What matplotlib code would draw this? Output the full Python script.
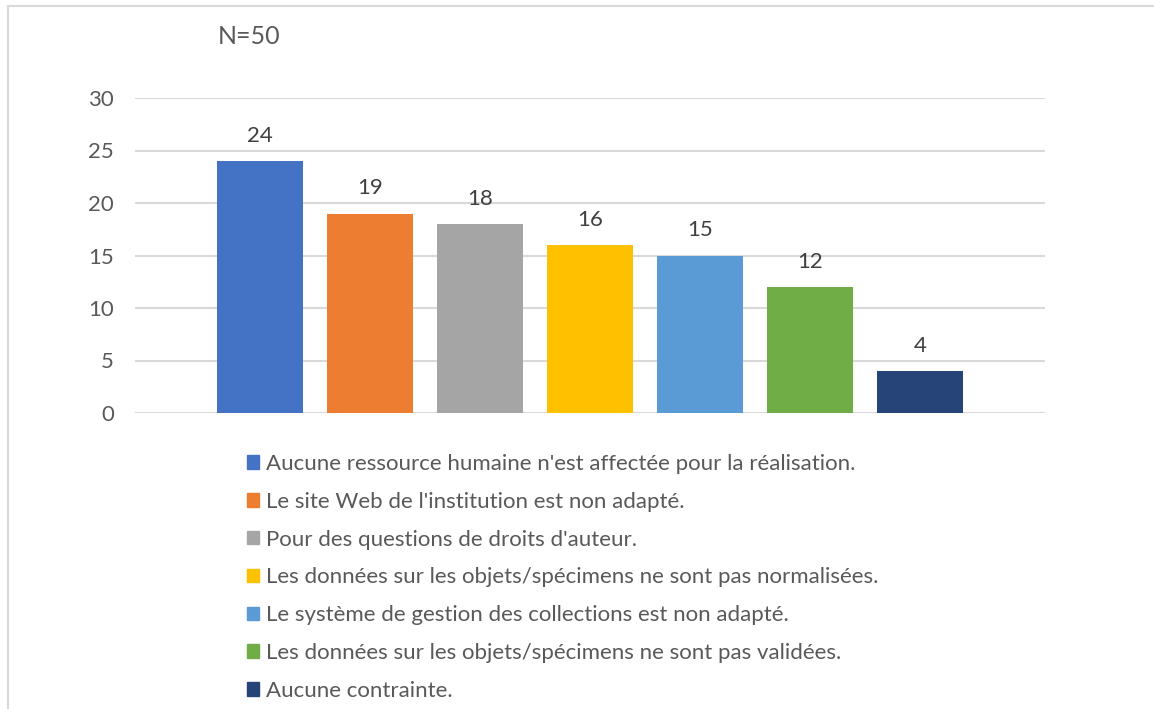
import matplotlib
matplotlib.use("Agg")
import matplotlib.pyplot as plt
from matplotlib.patches import Rectangle

# ── Data ──────────────────────────────────────────────────────────────────────
labels = [
    "Aucune ressource humaine n'est affectée pour la réalisation.",
    "Le site Web de l'institution est non adapté.",
    "Pour des questions de droits d'auteur.",
    "Les données sur les objets/spécimens ne sont pas normalisées.",
    "Le système de gestion des collections est non adapté.",
    "Les données sur les objets/spécimens ne sont pas validées.",
    "Aucune contrainte.",
]
values = [24, 19, 18, 16, 15, 12, 4]
colors = ["#4472C4", "#ED7D31", "#A5A5A5", "#FFC000", "#5B9BD5", "#70AD47", "#264478"]
yticks = [0, 5, 10, 15, 20, 25, 30]
title = "N=50"

# ── Style ─────────────────────────────────────────────────────────────────────
plt.rcParams["font.family"] = ["Lato", "DejaVu Sans"]
TXT = "#595959"
GRID = "#d9d9d9"
W, H = 1154, 709

fig = plt.figure(figsize=(W / 100, H / 100), dpi=100)
ax = fig.add_axes([135 / W, 296 / H, 910 / W, 315 / H])

xs = list(range(len(values)))
bars = ax.bar(xs, values, width=0.79, color=colors, zorder=3)
for b, v in zip(bars, values):
    ax.annotate(str(v), (b.get_x() + b.get_width() / 2, v), xytext=(0, 11),
                textcoords="offset points", ha="center", va="bottom",
                fontsize=16, color="#404040")

ax.set_xlim(-1.136, 7.136)
ax.set_ylim(0, 30)
ax.set_yticks(yticks)
ax.set_xticks([])
ax.yaxis.grid(True, color=GRID, lw=1.5, zorder=0)
ax.tick_params(axis="y", length=0, pad=15, labelsize=16, labelcolor=TXT)
for sp in ax.spines.values():
    sp.set_visible(False)

# legend
handles = [Rectangle((0, 0), 1, 1, color=c) for c in colors]
fig.legend(handles, labels, loc="upper left", bbox_to_anchor=(247 / W, 1 - 454 / H),
           frameon=False, fontsize=16, labelcolor=TXT, handlelength=0.55,
           handleheight=0.55, handletextpad=0.3, labelspacing=0.80,
           borderaxespad=0, borderpad=0)

fig.text(218 / W, 1 - 37 / H, title, fontsize=18, color=TXT, va="center", ha="left")

# chart-area border (cut at right and bottom)
fig.add_artist(plt.Line2D([8 / W, 8 / W], [0, 1 - 6 / H], color=GRID, lw=1.5))
fig.add_artist(plt.Line2D([8 / W, 1], [1 - 6 / H, 1 - 6 / H], color=GRID, lw=1.5))

fig.savefig("out.png", dpi=100, facecolor="white")
